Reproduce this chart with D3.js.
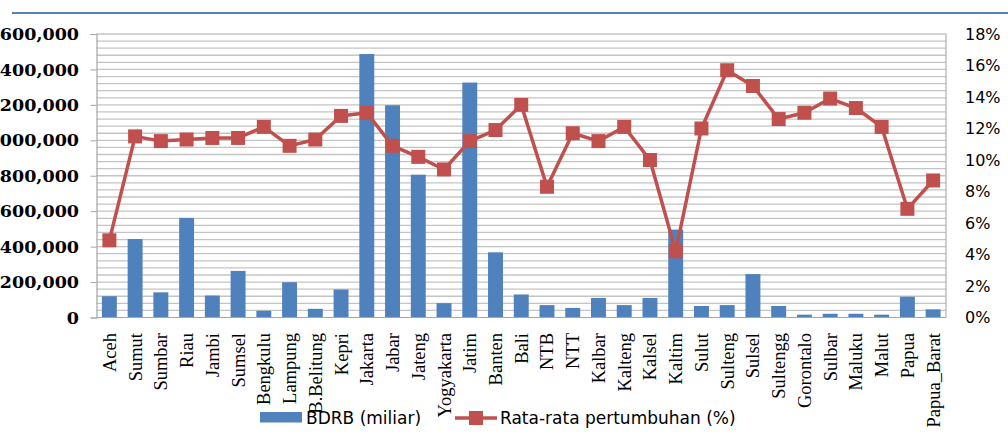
<!DOCTYPE html>
<html>
<head>
<meta charset="utf-8">
<script src="https://cdn.jsdelivr.net/npm/d3@7"></script>
<style>
  body { margin: 0; background: #fff; }
  svg { display: block; }
</style>
</head>
<body>
<div id="chart"></div>
<script>
// provinces, PDRB (miliar) and average growth (%)
var provinces = ["Aceh", "Sumut", "Sumbar", "Riau", "Jambi", "Sumsel", "Bengkulu", "Lampung",
  "B.Belitung", "Kepri", "Jakarta", "Jabar", "Jateng", "Yogyakarta", "Jatim", "Banten", "Bali",
  "NTB", "NTT", "Kalbar", "Kalteng", "Kalsel", "Kaltim", "Sulut", "Sulteng", "Sulsel", "Sultengg",
  "Gorontalo", "Sulbar", "Maluku", "Malut", "Papua", "Papua_Barat"];

var pdrb = [120000, 443000, 142000, 562000, 124000, 263000, 38000, 199000, 49000, 158000,
  1487000, 1198000, 806000, 81000, 1326000, 368000, 130000, 70000, 54000, 110000, 70000,
  110000, 496000, 65000, 70000, 245000, 65000, 16000, 21000, 21000, 16000, 117000, 46000];

var growth = [4.9, 11.5, 11.2, 11.3, 11.4, 11.4, 12.1, 10.9, 11.3, 12.8, 13.0, 10.9, 10.2, 9.4,
  11.2, 11.9, 13.5, 8.3, 11.7, 11.2, 12.1, 10.0, 4.2, 12.0, 15.7, 14.7, 12.6, 13.0, 13.9, 13.3,
  12.1, 6.9, 8.7];

var leftTicks = [0, 200000, 400000, 600000, 800000, 1000000, 1200000, 1400000, 1600000];
var rightTicks = [0, 2, 4, 6, 8, 10, 12, 14, 16, 18];

var legendLabels = ["BDRB (miliar)", "Rata-rata pertumbuhan (%)"];

var barColor = "#4F81BD";
var lineColor = "#C0504D";

var W = 1008, H = 434;
var plot = { left: 96.5, right: 946, top: 34, bottom: 317.5 };

var svg = d3.select("#chart").append("svg")
  .attr("width", W)
  .attr("height", H);

// decorative header rule
svg.append("line")
  .attr("x1", 12).attr("x2", W)
  .attr("y1", 13).attr("y2", 13)
  .attr("stroke", "#5b7fb8")
  .attr("stroke-width", 2);

var x = d3.scaleBand()
  .domain(provinces)
  .range([plot.left, plot.right])
  .paddingInner(0.42)
  .paddingOuter(0.21);

var yLeft = d3.scaleLinear()
  .domain([0, 1600000])
  .range([plot.bottom, plot.top]);

var yRight = d3.scaleLinear()
  .domain([0, 18])
  .range([plot.bottom, plot.top]);

// gridlines every 40,000
var gridVals = d3.range(40000, 1600001, 40000);
svg.append("g")
  .attr("class", "grid")
  .selectAll("line")
  .data(gridVals)
  .enter().append("line")
  .attr("x1", plot.left).attr("x2", plot.right)
  .attr("y1", function(d) { return yLeft(d); })
  .attr("y2", function(d) { return yLeft(d); })
  .attr("stroke", "#c4c4c4")
  .attr("stroke-width", 1.3);

// frame lines
svg.append("line")
  .attr("x1", plot.right).attr("x2", plot.right)
  .attr("y1", plot.top).attr("y2", plot.bottom)
  .attr("stroke", "#b0b0b0").attr("stroke-width", 1.2);

// left axis (labels run off the left edge, as in the source image)
var leftAxis = d3.axisLeft(yLeft)
  .tickValues(leftTicks)
  .tickSize(6)
  .tickFormat(d3.format(","));

var gl = svg.append("g")
  .attr("transform", "translate(" + plot.left + ",0)")
  .call(leftAxis);
gl.select(".domain").attr("stroke", "#a6a6a6").attr("stroke-width", 1.2);
gl.selectAll(".tick line").attr("stroke", "#a6a6a6");
gl.selectAll(".tick text")
  .attr("x", -17.5)
  .attr("fill", "#000")
  .style("font-family", "'DejaVu Serif', serif")
  .style("font-weight", "bold")
  .style("font-size", "17.5px");

// right axis
var rightAxis = d3.axisRight(yRight)
  .tickValues(rightTicks)
  .tickSize(0)
  .tickFormat(function(d) { return d + "%"; });

var gr = svg.append("g")
  .attr("transform", "translate(" + plot.right + ",0)")
  .call(rightAxis);
gr.select(".domain").remove();
gr.selectAll(".tick text")
  .attr("x", 19)
  .attr("fill", "#000")
  .style("font-family", "'DejaVu Sans', sans-serif")
  .style("font-size", "16px");

// bars
svg.append("g")
  .selectAll("rect")
  .data(provinces)
  .enter().append("rect")
  .attr("x", function(d) { return x(d); })
  .attr("width", x.bandwidth())
  .attr("y", function(d, i) { return yLeft(pdrb[i]); })
  .attr("height", function(d, i) { return plot.bottom - yLeft(pdrb[i]); })
  .attr("fill", barColor);

// bottom axis line
svg.append("line")
  .attr("x1", plot.left).attr("x2", plot.right)
  .attr("y1", plot.bottom).attr("y2", plot.bottom)
  .attr("stroke", "#a6a6a6").attr("stroke-width", 1.2);

// growth line
var line = d3.line()
  .x(function(d, i) { return x(provinces[i]) + x.bandwidth() / 2; })
  .y(function(d) { return yRight(d); });

svg.append("path")
  .datum(growth)
  .attr("d", line)
  .attr("fill", "none")
  .attr("stroke", lineColor)
  .attr("stroke-width", 3.5)
  .attr("stroke-linejoin", "round");

var m = 14;
svg.append("g")
  .selectAll("rect")
  .data(growth)
  .enter().append("rect")
  .attr("x", function(d, i) { return x(provinces[i]) + x.bandwidth() / 2 - m / 2; })
  .attr("y", function(d) { return yRight(d) - m / 2; })
  .attr("width", m)
  .attr("height", m)
  .attr("fill", lineColor);

// category labels
svg.append("g")
  .selectAll("text")
  .data(provinces)
  .enter().append("text")
  .attr("transform", function(d) {
    return "translate(" + (x(d) + x.bandwidth() / 2) + ",333) rotate(-90)";
  })
  .attr("dy", "0.35em")
  .attr("text-anchor", "end")
  .style("font-family", "'Liberation Serif', 'Times New Roman', serif")
  .style("font-size", "18.5px")
  .text(function(d) { return d; });

// legend
var lg = svg.append("g");
lg.append("rect")
  .attr("x", 260).attr("y", 412)
  .attr("width", 42).attr("height", 10.5)
  .attr("fill", barColor);
lg.append("text")
  .attr("x", 306).attr("y", 424)
  .style("font-family", "'DejaVu Sans', sans-serif")
  .style("font-size", "17px")
  .text(legendLabels[0]);
lg.append("line")
  .attr("x1", 455).attr("x2", 497)
  .attr("y1", 418).attr("y2", 418)
  .attr("stroke", lineColor).attr("stroke-width", 3.5);
lg.append("rect")
  .attr("x", 469).attr("y", 411)
  .attr("width", 14).attr("height", 14)
  .attr("fill", lineColor);
lg.append("text")
  .attr("x", 500).attr("y", 424)
  .style("font-family", "'DejaVu Sans', sans-serif")
  .style("font-size", "17px")
  .text(legendLabels[1]);
</script>
</body>
</html>
